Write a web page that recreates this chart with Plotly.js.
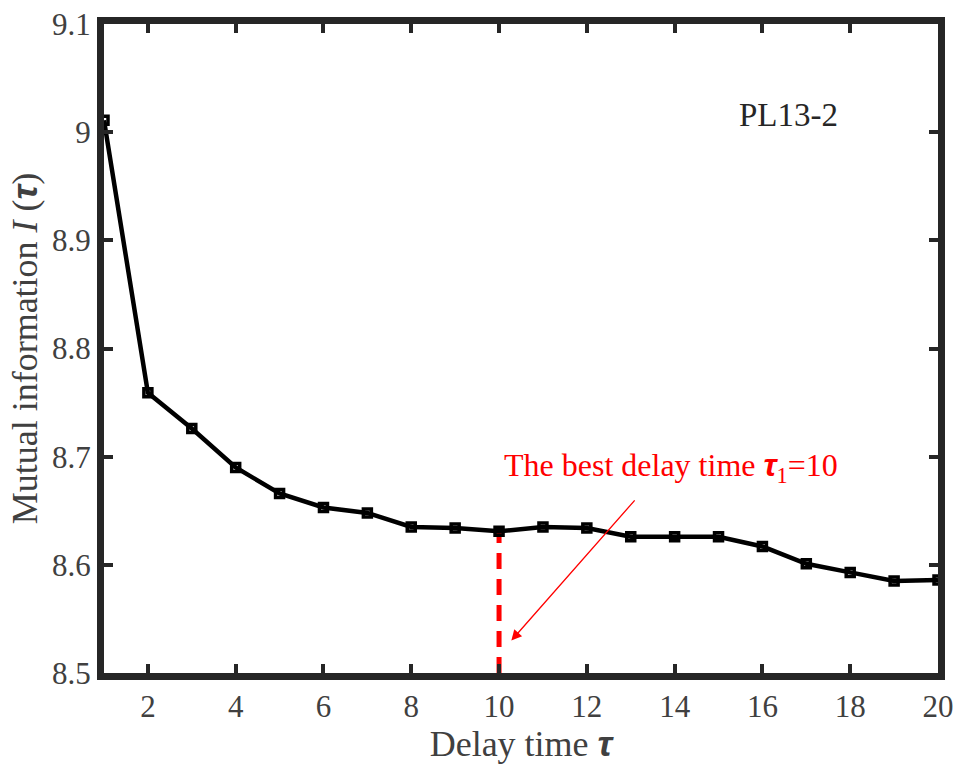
<!DOCTYPE html>
<html>
<head>
<meta charset="utf-8">
<script src="https://cdn.plot.ly/plotly-3.0.1.min.js"></script>
<style>
html,body{margin:0;padding:0;background:#fff;}
#chart{width:968px;height:764px;}
</style>
</head>
<body>
<div id="chart"></div>
<script>
// Data
const delayTime = [1,2,3,4,5,6,7,8,9,10,11,12,13,14,15,16,17,18,19,20];
const mutualInfo = [9.011,8.759,8.726,8.690,8.666,8.653,8.648,8.635,8.634,8.631,8.635,8.634,8.626,8.626,8.626,8.617,8.601,8.593,8.585,8.586];
const xTickVals = [2,4,6,8,10,12,14,16,18,20];
const yTickVals = [8.5,8.6,8.7,8.8,8.9,9.0,9.1];
const bestTau = 10;
const yMin = 8.5, yMax = 9.1;
const labelText = 'PL13-2';

const serif = "'Liberation Serif','Times New Roman',serif";
const axisColor = '#262626';
const tauSpan = '<span style="font-family:\'Liberation Sans\',Arial;font-weight:bold;font-style:italic">τ</span>';
const bestText = 'The best delay time ' + tauSpan + '<sub>1</sub>=10';

const bestIdx = delayTime.indexOf(bestTau);

const traces = [
  {
    x: [bestTau, bestTau],
    y: [yMin, mutualInfo[bestIdx]],
    mode: 'lines',
    line: {color: '#ff0000', width: 5, dash: '16px,10px'},
    hoverinfo: 'skip',
    showlegend: false
  },
  {
    x: delayTime,
    y: mutualInfo,
    mode: 'lines+markers',
    line: {color: '#000000', width: 4.5},
    marker: {symbol: 'square-open', size: 8, color: '#000000', line: {color: '#000000', width: 3.5}},
    showlegend: false,
    cliponaxis: false
  }
];

const layout = {
  width: 968,
  height: 764,
  paper_bgcolor: '#ffffff',
  plot_bgcolor: '#ffffff',
  margin: {l: 104, r: 30, t: 24, b: 91},
  font: {family: serif, color: '#404040', size: 31},
  xaxis: {
    range: [1, 20],
    tickvals: xTickVals,
    ticktext: xTickVals.map(String),
    ticks: 'inside',
    ticklen: 9,
    tickwidth: 4,
    tickcolor: axisColor,
    showline: true,
    linewidth: 7,
    linecolor: axisColor,
    mirror: 'ticks',
    showgrid: false,
    zeroline: false,
    tickfont: {family: serif, size: 31, color: '#404040'},
    title: {text: 'Delay time ' + tauSpan, font: {family: serif, size: 36, color: '#404040'}, standoff: 6}
  },
  yaxis: {
    range: [yMin, yMax],
    tickvals: yTickVals,
    ticktext: yTickVals.map(v => String(+v.toFixed(1))),
    ticks: 'inside',
    ticklen: 9,
    tickwidth: 4,
    tickcolor: axisColor,
    showline: true,
    linewidth: 7,
    linecolor: axisColor,
    mirror: 'ticks',
    showgrid: false,
    zeroline: false,
    tickfont: {family: serif, size: 31, color: '#404040'},
    title: {text: 'Mutual information <i>I</i> (' + tauSpan + ')', font: {family: serif, size: 36, color: '#404040'}, standoff: 6}
  },
  annotations: [
    {
      x: 16.6, y: 9.016, xref: 'x', yref: 'y',
      text: labelText, showarrow: false,
      font: {family: serif, size: 33, color: '#262626'}
    },
    {
      x: 13.92, y: 8.690, xref: 'x', yref: 'y',
      text: bestText, showarrow: false,
      font: {family: serif, size: 32, color: '#ff0000'}
    },
    {
      x: 10.28, y: 8.530, xref: 'x', yref: 'y',
      ax: 13.12, ay: 8.661, axref: 'x', ayref: 'y',
      text: '', showarrow: true,
      arrowhead: 2, arrowsize: 1.6, arrowwidth: 1.3, arrowcolor: '#ff0000'
    }
  ]
};

Plotly.newPlot('chart', traces, layout, {displayModeBar: false, staticPlot: true});
</script>
</body>
</html>
